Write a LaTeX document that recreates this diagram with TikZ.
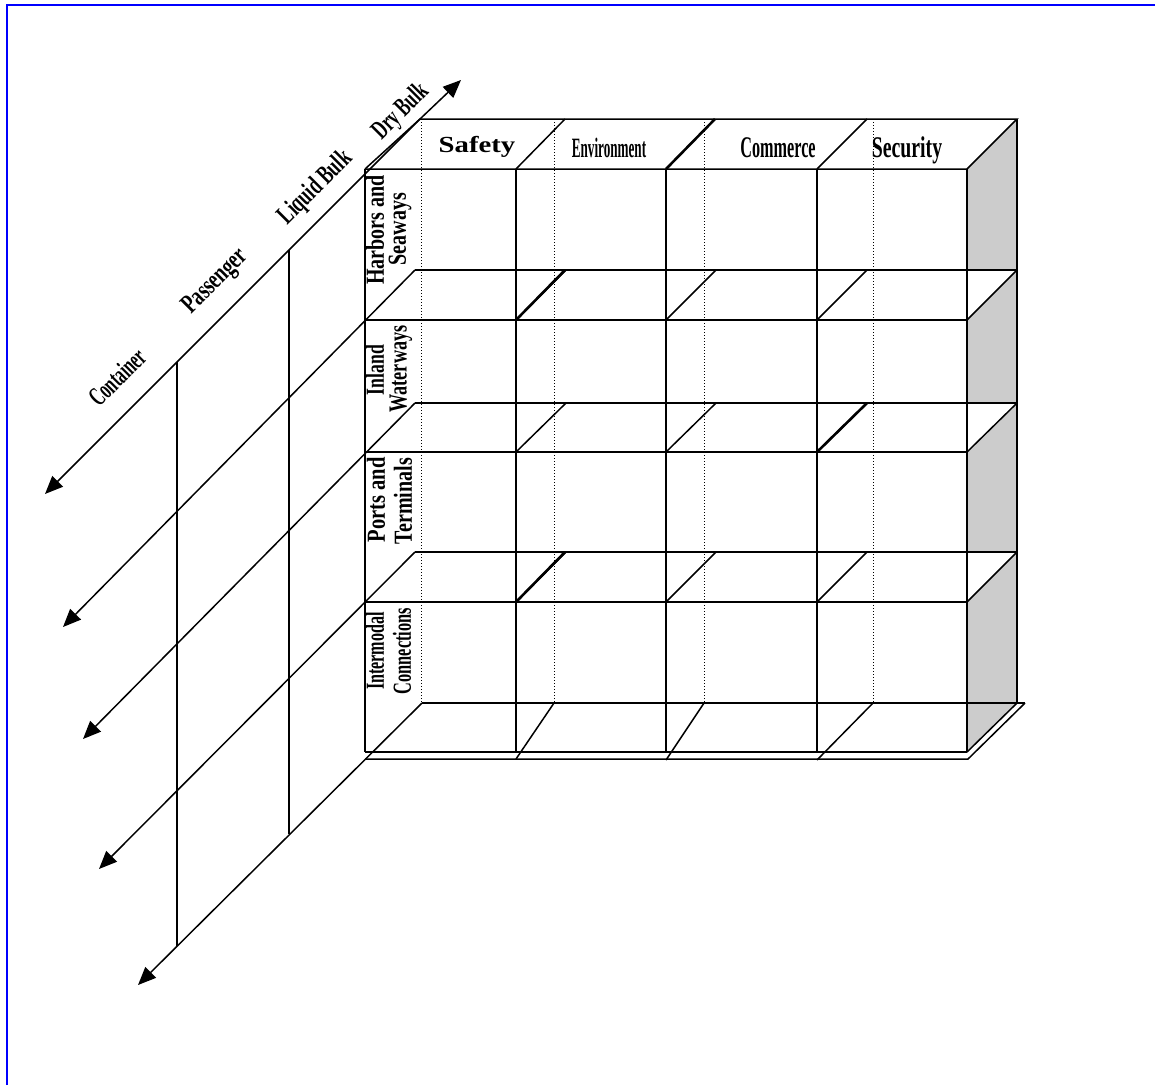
\documentclass[tikz,border=0pt]{standalone}
\usepackage{fontspec}
\usepackage{graphicx}
\setmainfont{Liberation Serif}
\usetikzlibrary{arrows.meta}
\definecolor{frameblue}{RGB}{0,0,255}
\definecolor{sidegray}{RGB}{204,204,204}
\tikzset{
  edge/.style={line width=1.5pt},
  heavy/.style={line width=2.6pt},
  hidden/.style={line width=1pt, dash pattern=on 1.2pt off 1.8pt},
  axisarrow/.style={line width=1.5pt, -{Triangle[length=18pt,width=15pt]}},
  lbl/.style={font=\bfseries\fontsize{26}{28}\selectfont, inner sep=0pt},
  axlbl/.style={font=\bfseries\fontsize{27}{29}\selectfont, inner sep=0pt},
  toplbl/.style={font=\bfseries\fontsize{30}{32}\selectfont, inner sep=0pt},
}
\newcommand{\sq}[2]{\scalebox{#1}[1]{#2}}
\begin{document}
\begin{tikzpicture}[x=1pt,y=-1pt]
\useasboundingbox (0,0) rectangle (1155,1085);
\fill[white] (0,0) rectangle (1155,1085);
\draw[frameblue,line width=2pt] (6.5,1085) -- (6.5,4.7) -- (1155,4.7);

% shaded side face
\fill[sidegray] (967,169) -- (1017,119) -- (1017,703) -- (967,752) -- cycle;
\foreach \b/\f in {270/320,403/452,552/602}
  \fill[white] (967,\b) -- (1017,\b) -- (967,\f) -- cycle;

% hidden back verticals
\foreach \x in {421,554,704,873} \draw[hidden] (\x,119) -- (\x,703);

% top face
\draw[edge] (365,169) -- (967,169) -- (1017,119) -- (420,119);
\draw[edge] (365,169) -- (420,119);
\draw[edge] (516,169) -- (565,119);
\draw[heavy] (666,169) -- (715,119);
\draw[edge] (817,169) -- (867,119);

% shelves
\foreach \b/\f in {270/320,403/452,552/602}{
  \draw[edge] (415,\b) -- (1017,\b);
  \draw[edge] (365,\f) -- (967,\f);
  \foreach \x in {516,666,817,967} \draw[edge] (\x,\f) -- ({\x+50},\b);
}
\draw[heavy] (516,320) -- (565,270);
\draw[heavy] (817,452) -- (867,403);
\draw[heavy] (516,602) -- (565,552);

% floor and base plate
\draw[edge] (422,703) -- (1025,703);
\draw[edge] (365,752) -- (967,752);
\draw[edge] (365,759) -- (968,759) -- (1025,703);
\draw[edge] (967,752) -- (1017,703);
\draw[edge] (516,759) -- (554,703);
\draw[edge] (666,760) -- (704,703);
\draw[edge] (817,760) -- (873,703);

% front verticals
\foreach \x in {365,516,666,817,967} \draw[edge] (\x,169) -- (\x,752);
\draw[edge] (1017,119) -- (1017,703);
\draw[heavy] (516,320) -- (516,403);
\draw[heavy] (516,602) -- (516,752);
\draw[heavy] (666,169) -- (666,252);
\draw[heavy] (666,602) -- (666,752);

% axis lines
\coordinate (k0) at (420,119);
\coordinate (k1) at (415,270);
\coordinate (k2) at (415,403);
\coordinate (k3) at (415,552);
\coordinate (k4) at (422,703);
\coordinate (tipDry) at (461,80);
\coordinate (t0) at (45,494);
\coordinate (t1) at (63,627);
\coordinate (t2) at (83,739);
\coordinate (t3) at (99,869);
\coordinate (t4) at (138,985);
\draw[axisarrow] (k0) -- (tipDry);
\foreach \i in {0,...,4} \draw[axisarrow] (k\i) -- (t\i);

\coordinate (v1a) at (177,362);
\coordinate (v1b) at (177,946);
\coordinate (v2a) at (289,250);
\coordinate (v2b) at (289,834);
\draw[edge] (v1a) -- (v1b);
\draw[edge] (v2a) -- (v2b);

% axis labels
\node[axlbl,rotate=45] (lcont) at (117,377) {\sq{0.59}{Container}};
\node[axlbl,rotate=45] (lpass) at (216,282) {\sq{0.70}{Passenger}};
\node[axlbl,rotate=45] (lliq) at (316,188) {\sq{0.66}{Liquid Bulk}};
\node[axlbl,rotate=45] (ldry) at (401,112) {\sq{0.63}{Dry Bulk}};

% top labels
\node[toplbl,font=\bfseries\fontsize{23}{25}\selectfont] (lsafe) at (477,147) {\sq{1.25}{Safety}};
\node[toplbl,font=\bfseries\fontsize{28}{30}\selectfont] (lenv) at (609,148) {\sq{0.47}{Environment}};
\node[toplbl] (lcom) at (778,148) {\sq{0.54}{Commerce}};
\node[toplbl] (lsec) at (907,150) {\sq{0.66}{Security}};

% row labels
\node[lbl,rotate=90] (r1a) at (375,230) {\sq{0.77}{Harbors and}};
\node[lbl,rotate=90] (r1b) at (400,229) {\sq{0.77}{Seaways}};
\node[lbl,rotate=90] (r2a) at (375,370) {\sq{0.68}{Inland}};
\node[lbl,rotate=90] (r2b) at (401,369) {\sq{0.70}{Waterways}};
\node[lbl,rotate=90] (r3a) at (376,500) {\sq{0.79}{Ports and}};
\node[lbl,rotate=90] (r3b) at (403,501) {\sq{0.77}{Terminals}};
\node[lbl,rotate=90] (r4a) at (375,651) {\sq{0.62}{Intermodal}};
\node[lbl,rotate=90] (r4b) at (402,651) {\sq{0.63}{Connections}};
\end{tikzpicture}
\end{document}
